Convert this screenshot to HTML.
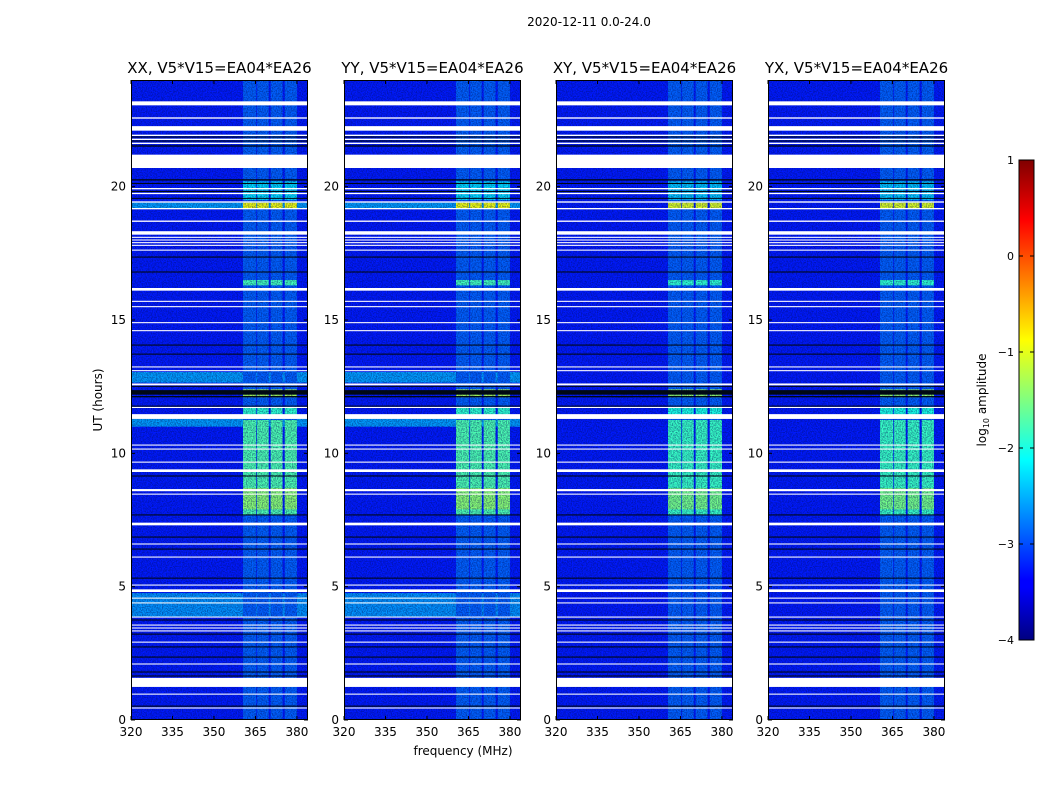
<!DOCTYPE html>
<html><head><meta charset="utf-8"><style>
body{margin:0;background:#fff;}
svg{display:block;font-family:"DejaVu Sans","Liberation Sans",sans-serif;}
</style></head><body>
<svg id="chart" width="1050" height="800" viewBox="0 0 1050 800">
<defs>
<filter id="noise" x="0" y="0" width="100%" height="100%" color-interpolation-filters="sRGB">
<feTurbulence type="fractalNoise" baseFrequency="0.8" numOctaves="2" seed="3"/>
<feColorMatrix type="matrix" values="0 0 0 0 0  0 0 0 0 0.05  0 0 0 0 0.35  3 0 0 0 -1.1"/>
</filter>
<linearGradient id="jetgrad" x1="0" y1="1" x2="0" y2="0">
<stop offset="0" stop-color="#000080"/><stop offset="0.11" stop-color="#0000ff"/>
<stop offset="0.125" stop-color="#0000ff"/><stop offset="0.375" stop-color="#00ffff"/>
<stop offset="0.5" stop-color="#80ff80"/><stop offset="0.625" stop-color="#ffff00"/>
<stop offset="0.875" stop-color="#ff0000"/><stop offset="1" stop-color="#800000"/>
</linearGradient>
</defs>
<text x="589" y="26" font-size="12" text-anchor="middle">2020-12-11 0.0-24.0</text>
<g id="panels"></g>
<text x="463" y="755" font-size="12" text-anchor="middle">frequency (MHz)</text>
<text transform="translate(102,400) rotate(-90)" font-size="12" text-anchor="middle">UT (hours)</text>
<g id="cbar"></g>
<text transform="translate(986,400) rotate(-90)" font-size="12" text-anchor="middle">log<tspan font-size="8" dy="3">10</tspan><tspan dy="-3"> amplitude</tspan></text>
</svg>
<script>
const panelNames = ["XX","YY","XY","YX"];
const xTicks = [320,335,350,365,380];
const yTicks = [0,5,10,15,20];
const cbarTicks = [1,0,-1,-2,-3,-4];
const baseLevel = -3.25;
const columnBands = [[360.5,365.3],[365.6,369.8],[370.5,374.8],[375.6,380]];
const columnBase = -2.9;
// [startHour, endHour, level] for the high-frequency columns
const columnRows = [[7.7,11.25,-1.75],[7.9,8.7,-1.45],[12.1,12.4,-1.3],[19.2,19.4,-0.95],[16.3,16.5,-1.8],[19.5,20.2,-2.3],[11.3,11.7,-1.9]];
// broadband brighter rows for parallel hands (XX, YY)
const broadRows = [[12.65,13.05,-2.6],[3.86,4.76,-2.65],[11.0,11.29,-2.6],[19.2,19.4,-2.6]];
const whiteBands = [[23.05,23.2],[22.55,22.6],[22.1,22.27],[21.9,21.95],[21.75,21.8],[21.6,21.65],[20.7,21.2],[19.9,19.95],[19.72,19.77],[19.4,19.45],[19.15,19.2],[18.68,18.73],[18.2,18.33],[18.08,18.12],[17.98,18.02],[17.88,17.92],[17.78,17.82],[17.6,17.64],[16.1,16.2],[15.68,15.72],[15.48,15.52],[14.88,14.92],[14.58,14.62],[13.22,13.26],[13.08,13.12],[12.55,12.62],[11.7,11.74],[11.29,11.47],[10.29,10.33],[10.14,10.18],[9.65,9.69],[9.3,9.4],[8.58,8.66],[8.45,8.49],[7.3,7.4],[6.58,6.62],[6.09,6.13],[5.04,5.08],[4.8,4.9],[4.55,4.59],[4.37,4.41],[3.84,3.88],[3.54,3.58],[3.43,3.47],[3.32,3.36],[2.9,2.94],[2.08,2.12],[1.24,1.58],[0.95,0.99],[0.43,0.47]];
const darkLines = [[21.85,21.88],[21.7,21.73],[21.5,21.55],[20.23,20.28],[20.1,20.14],[19.8,19.84],[19.55,19.58],[17.34,17.38],[16.78,16.82],[14.04,14.08],[13.7,13.74],[12.5,12.53],[12.2,12.37],[12.1,12.15],[11.76,11.79],[9.13,9.17],[7.67,7.71],[6.84,6.88],[6.39,6.43],[5.3,5.34],[3.73,3.77],[3.2,3.24],[2.72,2.76],[2.34,2.38],[1.78,1.82],[1.63,1.67],[0.5,0.54]];

const NS = "http://www.w3.org/2000/svg";
const panelX = [131,344,556,768], PW = 177, PT = 80, PB = 720;
const fMin = 320, fMax = 384, hMin = 0, hMax = 24;
function xs(i,f){return panelX[i] + (f-fMin)/(fMax-fMin)*PW;}
function ys(h){return PB - (h-hMin)/(hMax-hMin)*(PB-PT);}
function jet(v){const t=Math.max(0,Math.min(1,(v+4)/5));
 const c=x=>Math.round(255*Math.max(0,Math.min(1,1.5-Math.abs(x))));
 return `rgb(${c(4*t-3)},${c(4*t-2)},${c(4*t-1)})`;}
function mk(tag,attrs,parent){const e=document.createElementNS(NS,tag);for(const k in attrs)e.setAttribute(k,attrs[k]);parent.appendChild(e);return e;}
const root = document.getElementById("panels");
panelNames.forEach((nm,i)=>{
 const g = mk("g",{},root);
 
 
 const x0=panelX[i];
 const bg=mk("rect",{x:x0,y:PT,width:PW,height:PB-PT,fill:jet(baseLevel)},g);
 
 
 if(i<2){broadRows.forEach(r=>{
  const e=mk("rect",{x:x0,y:ys(r[1]),width:PW,height:ys(r[0])-ys(r[1]),fill:jet(r[2])},g);
  
  
 });}
 columnBands.forEach(cb=>{
  const cx=xs(i,cb[0]), cw=xs(i,cb[1])-xs(i,cb[0]);
  const e=mk("rect",{x:cx,y:PT,width:cw,height:PB-PT,fill:jet(columnBase)},g);
  
  
  columnRows.forEach(r=>{
   const lv = i<2 ? r[2] : r[2]-0.1;
   const c=mk("rect",{x:cx,y:ys(r[1]),width:cw,height:ys(r[0])-ys(r[1]),fill:jet(lv)},g);
   
   
  });
 });
 const nz=mk("rect",{x:x0,y:PT,width:PW,height:PB-PT,fill:"#000",filter:"url(#noise)",opacity:0.45},g);
 
 
 darkLines.forEach(r=>{
  const e=mk("rect",{x:x0,y:ys(r[1]),width:PW,height:Math.max(1,ys(r[0])-ys(r[1])),fill:"#000814"},g);
  
  
 });
 whiteBands.forEach(r=>{
  const e=mk("rect",{x:x0,y:ys(r[1]),width:PW,height:Math.max(1,ys(r[0])-ys(r[1])),fill:"#fff"},g);
  
  
 });
 const fr=mk("rect",{x:x0+0.5,y:PT+0.5,width:PW-1,height:PB-PT-1,fill:"none",stroke:"#000","stroke-width":1},g);
 
 
 const t=mk("text",{x:x0+PW/2,y:73,"font-size":15,"text-anchor":"middle"},g);
 t.textContent=nm+", V5*V15=EA04*EA26";
 
 
 xTicks.forEach(f=>{
  const x=xs(i,f);
  mk("line",{x1:x,x2:x,y1:PB,y2:PB-4,stroke:"#000"},g);
  mk("line",{x1:x,x2:x,y1:PT,y2:PT+4,stroke:"#000"},g);
  const l=mk("text",{x:x,y:PB+16,"font-size":12,"text-anchor":"middle"},g);
  l.textContent=f;
  
  
 });
 yTicks.forEach(h=>{
  const y=ys(h);
  mk("line",{x1:x0,x2:x0+4,y1:y,y2:y,stroke:"#000"},g);
  mk("line",{x1:x0+PW,x2:x0+PW-4,y1:y,y2:y,stroke:"#000"},g);
  const l=mk("text",{x:x0-5,y:y+4,"font-size":12,"text-anchor":"end"},g);
  l.textContent=h;
  
  
 });
});
const cb=document.getElementById("cbar");
const CX=1019,CW=15,CT=160,CB=640;
function cy(v){return CB-(v+4)/5*(CB-CT);}
const br=mk("rect",{x:CX,y:CT,width:CW,height:CB-CT,fill:"url(#jetgrad)",stroke:"#000"},cb);


cbarTicks.forEach(v=>{
 const y=cy(v);
 mk("line",{x1:CX,x2:CX+4,y1:y,y2:y,stroke:"#000"},cb);
 mk("line",{x1:CX+CW,x2:CX+CW-4,y1:y,y2:y,stroke:"#000"},cb);
 const l=mk("text",{x:CX-5,y:y+4,"font-size":11,"text-anchor":"end"},cb);
 l.textContent=v<0?"\u2212"+(-v):String(v);
 
 
});
</script>
</body></html>
